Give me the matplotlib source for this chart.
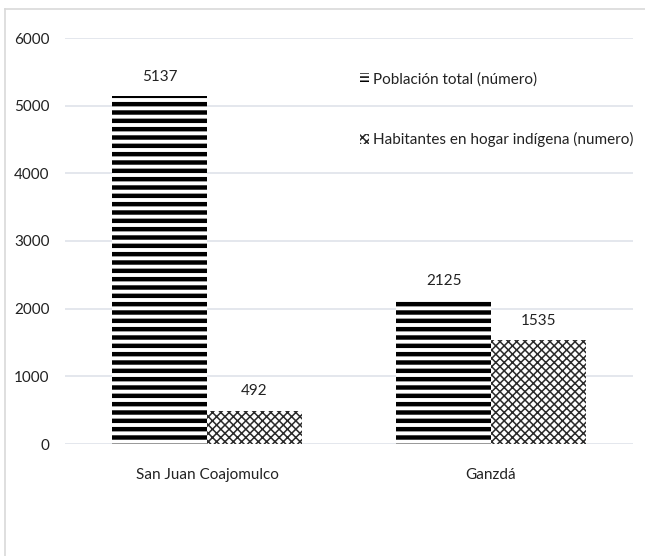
import numpy as np
import matplotlib
matplotlib.use("Agg")
import matplotlib.pyplot as plt
from matplotlib.lines import Line2D
from matplotlib.patches import Patch

plt.rcParams['font.family'] = ['Lato', 'DejaVu Sans']

localidades = ["San Juan Coajomulco", "Ganzdá"]
poblacion_total = [5137, 2125]
hogar_indigena = [492, 1535]
etiquetas = ["Población total (número)", "Habitantes en hogar indígena (numero)"]
yticks = [0, 1000, 2000, 3000, 4000, 5000, 6000]

W, H = 645, 556
fig = plt.figure(figsize=(W / 100, H / 100), dpi=100)
ax = fig.add_axes([65 / W, 1 - 444 / H, (633 - 65) / W, (444 - 38) / H])

x = np.arange(len(localidades))
ancho = 0.334
fs = 11

plt.rcParams['hatch.linewidth'] = 3.2
b1 = ax.bar(x - ancho / 2, poblacion_total, ancho, color='white',
            edgecolor='black', linewidth=0, hatch='--')
plt.rcParams['hatch.linewidth'] = 2.2
h1 = Patch(facecolor='white', edgecolor='black', linewidth=0, hatch='----')
plt.rcParams['hatch.linewidth'] = 1.1
b2 = ax.bar(x + ancho / 2, hogar_indigena, ancho, color='white',
            edgecolor='#2a2a2a', linewidth=0, hatch='xxxx')
h2 = Patch(facecolor='white', edgecolor='#2a2a2a', linewidth=0, hatch='xxxx')

for barras in (b1, b2):
    for b in barras:
        ax.annotate(f"{int(b.get_height())}",
                    (b.get_x() + b.get_width() / 2, b.get_height()),
                    xytext=(0, 9), textcoords='offset points',
                    ha='center', va='bottom', fontsize=fs, color='#222222')

ax.set_xlim(-0.5, 1.5)
ax.set_ylim(0, 6000)
ax.set_yticks(yticks)
ax.set_xticks(x)
ax.set_xticklabels(localidades)
ax.tick_params(axis='both', length=0, labelsize=fs, colors='#222222')
ax.tick_params(axis='x', pad=17)
ax.tick_params(axis='y', pad=11)
ax.grid(axis='y', color='#dfe3ea', linewidth=1.2)
ax.set_axisbelow(True)
for s in ax.spines.values():
    s.set_visible(False)

leg = ax.legend([h1, h2], etiquetas, loc='upper left',
                bbox_to_anchor=(360 / W, 1 - 72 / H), bbox_transform=fig.transFigure,
                frameon=False, fontsize=fs, handlelength=0.6, handleheight=0.6,
                handletextpad=0.25, labelspacing=3.0, borderaxespad=0, borderpad=0)
for t in leg.get_texts():
    t.set_color('#222222')

# marco del gráfico (recortado)
fig.add_artist(Line2D([5 / W, 1], [1 - 9 / H, 1 - 9 / H], color='#d9d9d9', lw=1.2))
fig.add_artist(Line2D([5 / W, 5 / W], [0, 1 - 9 / H], color='#d9d9d9', lw=1.2))

fig.savefig("out.png", dpi=100)
